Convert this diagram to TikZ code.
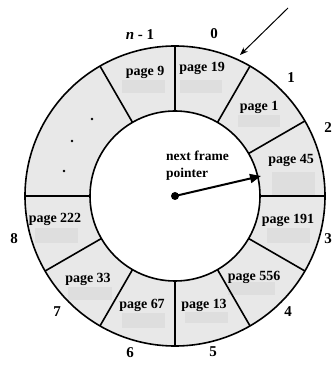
\documentclass[tikz,border=0pt]{standalone}
\usepackage{fontspec}
\setmainfont{Liberation Serif}
\usetikzlibrary{arrows.meta,calc}
\definecolor{ringgray}{HTML}{E8E8E8}
\definecolor{boxgray}{HTML}{DEDEDE}
\begin{document}
\begin{tikzpicture}[x=1pt,y=1pt,
  lbl/.style={font=\bfseries\fontsize{15}{17}\selectfont, inner sep=0pt},
  pg/.style={font=\bfseries\fontsize{14}{16}\selectfont, inner sep=0pt},
  smudge/.style={fill=boxgray},
  ringline/.style={line width=1.6pt},
  dotmark/.style={circle, fill=black, inner sep=0pt, minimum size=2.6pt}]
\useasboundingbox (0,0) rectangle (335,365);
\coordinate (c) at (175,169);
% ring
\fill[ringgray, even odd rule] (c) circle (150) (c) circle (85);
% smudge boxes
\fill[smudge] (122,272) rectangle (165,285);
\fill[smudge] (180,272) rectangle (222,285);
\fill[smudge] (238,238) rectangle (280,250);
\fill[smudge] (272,170) rectangle (315,193);
\fill[smudge] (267,122) rectangle (310,137);
\fill[smudge] (228,70) rectangle (275,83);
\fill[smudge] (185,42) rectangle (228,53);
\fill[smudge] (122,37) rectangle (165,52);
\fill[smudge] (68,65) rectangle (112,78);
\fill[smudge] (35,122) rectangle (78,137);
% circles
\draw[ringline] (c) circle (150);
\draw[ringline] (c) circle (85);
% radial dividers
\foreach \a in {90,60,30,0,-30,-60,-90,-120,-150,180,120}
  \draw[ringline] ($(c)+(\a:85)$) -- ($(c)+(\a:150)$);
% page labels
\node[pg] (p9) at (145,293) {page 9};
\node[pg] (p19) at (202,297) {page 19};
\node[pg] (p1) at (259,258) {page 1};
\node[pg] (p45) at (291,205) {page 45};
\node[pg] (p191) at (288,145) {page 191};
\node[pg] (p556) at (254,88) {page 556};
\node[pg] (p13) at (204,60) {page 13};
\node[pg] (p67) at (142,60) {page 67};
\node[pg] (p33) at (88,86) {page 33};
\node[pg] (p222) at (55,146) {page 222};
% dots
\node[dotmark] (d1) at (92,246) {};
\node[dotmark] (d2) at (72,224) {};
\node[dotmark] (d3) at (64,194) {};
% slot numbers
\node[lbl] (nm1) at (140,330) {\textit{n} - 1};
\node[lbl] (n0) at (214,331) {0};
\node[lbl] (n1) at (291,287) {1};
\node[lbl] (n2) at (328,237) {2};
\node[lbl] (n3) at (328,126) {3};
\node[lbl] (n4) at (288,53) {4};
\node[lbl] (n5) at (213,13) {5};
\node[lbl] (n6) at (130,12) {6};
\node[lbl] (n7) at (57,53) {7};
\node[lbl] (n8) at (14,126) {8};
% pointer
\node[pg, anchor=north west, align=left, font=\bfseries\fontsize{13.5}{17}\selectfont] (nfp) at (166,214) {next frame\\pointer};
\node[circle, fill=black, inner sep=0pt, minimum size=8pt] (hub) at (c) {};
\coordinate (ptip) at (261,189);
\draw[line width=2pt, -{Triangle[length=11pt,width=9pt]}] (hub.center) -- (ptip);
% external arrow
\coordinate (astart) at (288,357);
\coordinate (aend) at (240,310);
\draw[line width=1pt, -{Stealth[length=8pt,width=6pt]}] (astart) -- (aend);
\end{tikzpicture}
\end{document}
